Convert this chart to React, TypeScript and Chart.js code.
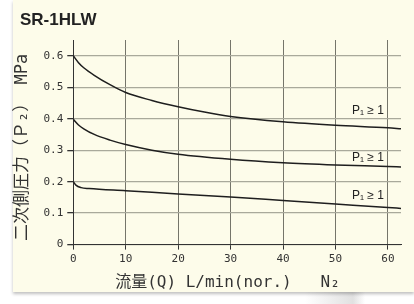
import { useEffect, useRef } from "react";
import { Chart, registerables } from "chart.js";

Chart.register(...registerables);

// ---- data ----
const chartTitle = "SR-1HLW";
const xAxisTitle = "流量(Q) L/min(nor.)   N₂  ";
const yAxisTitle = "二次側圧力（Ｐ₂） MPa ";

const xTickValues = [0, 10, 20, 30, 40, 50, 60];
const yTickValues = [0, 0.1, 0.2, 0.3, 0.4, 0.5, 0.6];

const flowHigh = [0, 1, 2, 4, 7, 10, 15, 20, 25, 30, 40, 50, 60, 62.5];
const p2High = [0.6, 0.578, 0.562, 0.538, 0.508, 0.483, 0.458, 0.438, 0.421, 0.407, 0.39, 0.379, 0.371, 0.368];

const flowMid = [0, 1, 2, 4, 7, 10, 15, 20, 30, 40, 50, 60, 62.5];
const p2Mid = [0.398, 0.38, 0.368, 0.35, 0.332, 0.318, 0.3, 0.287, 0.271, 0.26, 0.253, 0.248, 0.2465];

const flowLow = [0, 0.5, 1.5, 3, 10, 20, 30, 40, 50, 60, 62.5];
const p2Low = [0.2, 0.189, 0.181, 0.178, 0.171, 0.161, 0.151, 0.14, 0.129, 0.118, 0.115];

const curveLabels = ["P₁ ≥ 1", "P₁ ≥ 1", "P₁ ≥ 1"];
const curveLabelX = [56.2, 56.2, 56.2];
const curveLabelY = [0.405, 0.258, 0.135];

const toPoints = (xs: number[], ys: number[]) => xs.map((x, i) => ({ x, y: ys[i] }));

const MONO = "'DejaVu Sans Mono', 'Noto Sans CJK JP', monospace";

export default function App() {
  const ref = useRef<HTMLCanvasElement | null>(null);

  useEffect(() => {
    if (!ref.current) return;

    const extras = {
      id: "extras",
      afterDatasetsDraw(chart: any) {
        const { ctx, scales } = chart;
        ctx.save();
        // chart title
        ctx.fillStyle = "#222";
        ctx.font = "bold 17px 'Liberation Sans', Arial, sans-serif";
        ctx.textAlign = "left";
        ctx.textBaseline = "alphabetic";
        ctx.fillText(chartTitle, 20, 25);
        // curve labels
        ctx.font = "12px 'Liberation Sans', 'DejaVu Sans', sans-serif";
        ctx.textAlign = "center";
        ctx.textBaseline = "bottom";
        ctx.fillStyle = "#222";
        curveLabels.forEach((t, i) => {
          const px = scales.x.getPixelForValue(curveLabelX[i]);
          const py = scales.y.getPixelForValue(curveLabelY[i]);
          ctx.fillText(t, px, py);
        });
        ctx.restore();
      },
    };

    const lineStyle = {
      borderColor: "#1e1e1e",
      borderWidth: 1.5,
      pointRadius: 0,
      fill: false,
      cubicInterpolationMode: "monotone" as const,
    };

    const chart = new Chart(ref.current, {
      type: "line",
      data: {
        datasets: [
          { data: toPoints(flowHigh, p2High), ...lineStyle },
          { data: toPoints(flowMid, p2Mid), ...lineStyle },
          { data: toPoints(flowLow, p2Low), ...lineStyle },
        ],
      },
      options: {
        responsive: false,
        maintainAspectRatio: false,
        animation: false,
        layout: { padding: { top: 40, left: 8, right: 13, bottom: 12 } },
        plugins: { legend: { display: false }, tooltip: { enabled: false }, title: { display: false } },
        scales: {
          x: {
            type: "linear",
            min: 0,
            max: 62.5,
            afterBuildTicks: (axis: any) => {
              axis.ticks = xTickValues.map((v) => ({ value: v }));
            },
            grid: { color: "#75756a", lineWidth: 1, tickLength: 5, tickColor: "#333" },
            border: { color: "#333", width: 1 },
            ticks: {
              color: "#333",
              font: { family: MONO, size: 11 },
              padding: 3,
              maxRotation: 0,
              callback: (v: any) => String(v),
            },
            title: {
              display: true,
              text: xAxisTitle,
              color: "#333",
              font: { family: MONO, size: 16 },
              padding: { top: 4, bottom: 0 },
            },
          },
          y: {
            type: "linear",
            min: 0,
            max: 0.65,
            afterBuildTicks: (axis: any) => {
              axis.ticks = yTickValues.map((v) => ({ value: v }));
            },
            grid: { color: "#a9a99b", lineWidth: 1.3, tickLength: 6, tickColor: "#333" },
            border: { color: "#333", width: 1 },
            ticks: {
              color: "#333",
              font: { family: MONO, size: 11 },
              padding: 4,
              callback: (v: any) => (v === 0 ? "0" : Number(v).toFixed(1)),
            },
            title: {
              display: true,
              text: yAxisTitle,
              color: "#333",
              font: { family: MONO, size: 17 },
              padding: { top: 4, bottom: 7 },
            },
          },
        },
      },
      plugins: [extras],
    });

    return () => chart.destroy();
  }, []);

  return (
    <div
      style={{
        position: "fixed",
        left: 0,
        top: 0,
        width: 414,
        height: 304,
        background: "#ffffff",
        overflow: "hidden",
      }}
    >
      <div
        style={{
          position: "absolute",
          left: 305,
          top: 290,
          width: 60,
          height: 14,
          background: "linear-gradient(to right, rgba(235,235,235,0), rgba(225,225,225,1) 80%, rgba(245,245,245,0))",
        }}
      />
      <div
        style={{
          position: "absolute",
          left: 13,
          top: 0,
          width: 401,
          height: 292,
          background: "#fdfcea",
          boxShadow: "0 2px 3px rgba(0,0,0,0.25)",
        }}
      />
      <canvas ref={ref} width={414} height={304} style={{ position: "absolute", left: 0, top: 0 }} />
    </div>
  );
}
